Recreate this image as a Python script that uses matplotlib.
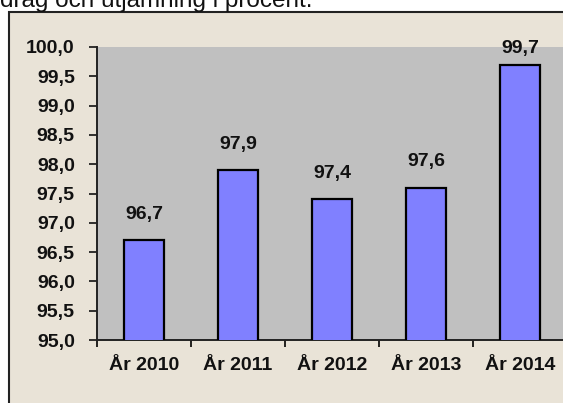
import matplotlib.pyplot as plt
from matplotlib.patches import Rectangle

years = ["År 2010", "År 2011", "År 2012", "År 2013", "År 2014"]
values = [96.7, 97.9, 97.4, 97.6, 99.7]
y_ticks = [95.0, 95.5, 96.0, 96.5, 97.0, 97.5, 98.0, 98.5, 99.0, 99.5, 100.0]
title_text = "drag och utjämning i procent."

plt.rcParams["font.family"] = ["Liberation Sans", "DejaVu Sans"]

W, H = 563, 403
fig = plt.figure(figsize=(W / 100, H / 100), dpi=100)
fig.patch.set_facecolor("white")

# beige frame of the embedded chart
frame = Rectangle((9 / W, -0.05), 1.0, (H - 12) / H + 0.05,
                  transform=fig.transFigure, facecolor="#E9E3D7",
                  edgecolor="#222222", linewidth=1.5, zorder=-5)
fig.patches.append(frame)

# title line, cut off at the top as in the source
fig.text(0 / W, 1 - 7 / H, title_text, fontsize=17.5, color="#111111",
         ha="left", va="baseline")

left, right = 97 / W, 567 / W
bottom, top = (H - 340) / H, (H - 47) / H
ax = fig.add_axes([left, bottom, right - left, top - bottom])
ax.set_zorder(2)
ax.set_facecolor("#C0C0C0")

x = list(range(len(years)))
ax.bar(x, values, width=0.43, color="#8080FF", edgecolor="#000000", linewidth=1.6,
       zorder=3)

for xi, v in zip(x, values):
    ax.text(xi, min(v + 0.44, 99.98), f"{v:.1f}".replace(".", ","), ha="center",
            va="center", fontsize=14, fontweight="bold", color="#111111", zorder=4,
            clip_on=False)

ax.set_ylim(95.0, 100.0)
ax.set_xlim(-0.5, len(years) - 0.5)
ax.set_yticks(y_ticks)
ax.set_yticklabels([f"{t:.1f}".replace(".", ",") for t in y_ticks])
ax.set_xticks([i - 0.5 for i in range(len(years))], minor=False)
ax.set_xticklabels([])
ax.set_xticks(x, minor=True)
ax.set_xticklabels(years, minor=True)

ax.tick_params(axis="y", which="major", direction="out", length=6, width=1.2,
               pad=10, labelsize=14, colors="#111111")
for lab in ax.get_yticklabels():
    lab.set_fontweight("bold")
ax.tick_params(axis="x", which="major", direction="out", length=5, width=1.2)
ax.tick_params(axis="x", which="minor", length=0, pad=12, labelsize=14,
               colors="#111111")
for lab in ax.get_xticklabels(minor=True):
    lab.set_fontweight("bold")

for side in ["top", "right"]:
    ax.spines[side].set_visible(False)
for side in ["left", "bottom"]:
    ax.spines[side].set_linewidth(1.4)
    ax.spines[side].set_color("#222222")

fig.savefig("out.png", dpi=100)
